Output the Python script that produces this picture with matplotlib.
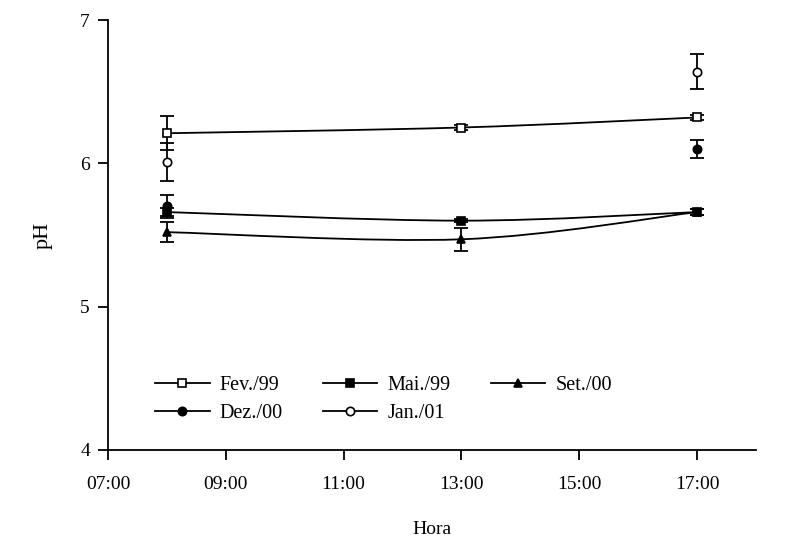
import matplotlib
matplotlib.use("Agg")
import matplotlib.pyplot as plt
from matplotlib.path import Path
from matplotlib.patches import PathPatch
from matplotlib.lines import Line2D
import numpy as np

plt.rcParams['font.family'] = ['Liberation Serif', 'DejaVu Serif']

# Hours of the day
hours_fev = [8, 13, 17]
fev99 = [6.21, 6.25, 6.32]
fev99_err = [0.12, 0.02, 0.02]

hours_mai = [8, 13, 17]
mai99 = [5.66, 5.60, 5.66]
mai99_err = [0.03, 0.01, 0.02]

hours_set = [8, 13, 17]
set00 = [5.52, 5.47, 5.66]
set00_err = [0.07, 0.08, 0.02]

hours_dez = [8, 17]
dez00 = [5.70, 6.10]
dez00_err = [0.08, 0.06]

hours_jan = [8, 17]
jan01 = [6.01, 6.64]
jan01_err = [0.13, 0.12]

xticks = [7, 9, 11, 13, 15, 17]
xticklabels = ["07:00", "09:00", "11:00", "13:00", "15:00", "17:00"]
yticks = [4, 5, 6, 7]

fig = plt.figure(figsize=(8.04, 5.53), dpi=100)
ax = fig.add_axes([0.1343, 0.1863, 0.806, 0.7775])

LW = 1.3

def smooth_path(xs, ys):
    # Excel-style smoothed line through the data points (Catmull-Rom Beziers)
    pts = np.column_stack([xs, ys]).astype(float)
    n = len(pts)
    verts = [pts[0]]
    codes = [Path.MOVETO]
    for i in range(n - 1):
        p0 = pts[i - 1] if i > 0 else pts[i]
        p1 = pts[i]
        p2 = pts[i + 1]
        p3 = pts[i + 2] if i + 2 < n else pts[i + 1]
        c1 = p1 + (p2 - p0) / 6.0
        c2 = p2 - (p3 - p1) / 6.0
        verts += [c1, c2, p2]
        codes += [Path.CURVE4] * 3
    return Path(verts, codes)

series = [
    ("Fev./99", hours_fev, fev99, fev99_err, 's', 'white', True),
    ("Mai./99", hours_mai, mai99, mai99_err, 's', 'black', True),
    ("Set./00", hours_set, set00, set00_err, '^', 'black', True),
    ("Dez./00", hours_dez, dez00, dez00_err, 'o', 'black', False),
    ("Jan./01", hours_jan, jan01, jan01_err, 'o', 'white', False),
]

handles = {}
for name, xs, ys, err, mk, fc, connect in series:
    if connect:
        ax.add_patch(PathPatch(smooth_path(xs, ys), facecolor='none',
                               edgecolor='black', lw=LW, zorder=2))
    ax.errorbar(xs, ys, yerr=err, fmt='none', ecolor='black', elinewidth=LW,
                capsize=5, capthick=LW, zorder=3)
    ax.plot(xs, ys, linestyle='none', marker=mk, markersize=6,
            markerfacecolor=fc, markeredgecolor='black', markeredgewidth=1.2,
            zorder=4)
    handles[name] = Line2D([], [], color='black', lw=LW, marker=mk, markersize=6,
                           markerfacecolor=fc, markeredgecolor='black',
                           markeredgewidth=1.2, label=name)

ax.set_xlim(7, 18)
ax.set_ylim(4, 7)
ax.set_xticks(xticks)
ax.set_xticklabels(xticklabels)
ax.set_yticks(yticks)

for s in ['top', 'right']:
    ax.spines[s].set_visible(False)
for s in ['left', 'bottom']:
    ax.spines[s].set_linewidth(1.3)
ax.tick_params(direction='out', length=7, width=1.3, labelsize=14, pad=12)
ax.tick_params(axis='y', pad=6)

ax.set_xlabel("Hora", fontsize=14, labelpad=20)
ax.set_ylabel("pH", fontsize=16, labelpad=20)

# order so rows read: Fev, Mai, Set / Dez, Jan
order = ["Fev./99", "Dez./00", "Mai./99", "Jan./01", "Set./00"]
leg = ax.legend(handles=[handles[k] for k in order], ncol=3, loc='lower left',
                bbox_to_anchor=(0.045, 0.02), frameon=False, fontsize=14.5,
                handlelength=2.7, columnspacing=2.0, handletextpad=0.5,
                labelspacing=0.45)

fig.savefig("out.png", dpi=100)
